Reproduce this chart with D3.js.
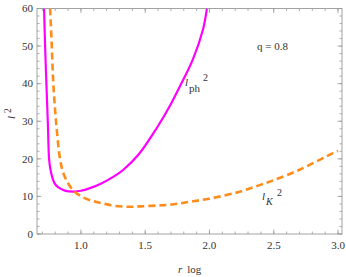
<!DOCTYPE html>
<html>
<head>
<meta charset="utf-8">
<script src="https://cdn.jsdelivr.net/npm/d3@7"></script>
<style>
  body { margin: 0; background: #fff; }
  svg { display: block; }
</style>
</head>
<body>
<svg id="chart" width="346" height="277"></svg>
<script>
// l_ph^2 (solid magenta)
const rPh = [0.713, 0.721, 0.731, 0.742, 0.752, 0.763, 0.783, 0.80, 0.822, 0.874, 0.939, 1.0, 1.07, 1.15, 1.26, 1.33, 1.45, 1.59, 1.7, 1.77, 1.87, 1.95, 1.98];
const lPh = [60, 50, 40, 30, 20, 17.1, 14.4, 13.2, 12.45, 11.55, 11.3, 11.5, 12.2, 13.3, 15.4, 17.1, 21.2, 28.2, 34.6, 39.3, 46.4, 54.5, 60];

// l_K^2 (dashed orange)
const rK = [0.76, 0.773, 0.785, 0.806, 0.837, 0.863, 0.90, 0.94, 1.005, 1.08, 1.16, 1.26, 1.37, 1.46, 1.6, 1.72, 1.85, 2.0, 2.23, 2.39, 2.49, 2.62, 2.75, 2.96, 3.0];
const lK = [60, 50, 40, 30, 20, 16.2, 13.5, 11.6, 9.95, 8.9, 8.2, 7.5, 7.25, 7.35, 7.6, 7.9, 8.6, 9.4, 11.2, 13.0, 14.2, 15.9, 17.9, 21.5, 22.1];

const xMajor = [1.0, 1.5, 2.0, 2.5, 3.0];
const yMajor = [0, 10, 20, 30, 40, 50, 60];

const svg = d3.select('#chart');
const pl = 37, pr = 342, pt = 8.5, pb = 234;

const x = d3.scaleLinear().domain([0.658, 3.031]).range([pl, pr]);
const y = d3.scaleLinear().domain([0, 60]).range([pb, pt]);

const frame = '#9a9a9a';
const txt = '#333';
const serif = 'Times New Roman, Liberation Serif, DejaVu Serif, serif';

svg.append('clipPath').attr('id', 'clip')
  .append('rect').attr('x', pl).attr('y', pt)
  .attr('width', pr - pl).attr('height', pb - pt);

const xMinor = d3.range(7, 31).map(d => d / 10);
const yMinor = d3.range(0, 61, 2);

// inward ticks on every side
function xticks(g, vals, len) {
  g.selectAll(null).data(vals).enter().append('line')
    .attr('x1', d => x(d)).attr('x2', d => x(d))
    .attr('y1', pb).attr('y2', pb - len).attr('stroke', frame);
  g.selectAll(null).data(vals).enter().append('line')
    .attr('x1', d => x(d)).attr('x2', d => x(d))
    .attr('y1', pt).attr('y2', pt + len).attr('stroke', frame);
}
function yticks(g, vals, len) {
  g.selectAll(null).data(vals).enter().append('line')
    .attr('y1', d => y(d)).attr('y2', d => y(d))
    .attr('x1', pl).attr('x2', pl + len).attr('stroke', frame);
  g.selectAll(null).data(vals).enter().append('line')
    .attr('y1', d => y(d)).attr('y2', d => y(d))
    .attr('x1', pr).attr('x2', pr - len).attr('stroke', frame);
}
const tg = svg.append('g').attr('stroke-width', 0.8);
xticks(tg, xMinor, 2.5);
xticks(tg, xMajor, 4.5);
yticks(tg, yMinor, 2.5);
yticks(tg, yMajor, 4.5);

svg.append('rect')
  .attr('x', pl).attr('y', pt)
  .attr('width', pr - pl).attr('height', pb - pt)
  .attr('fill', 'none').attr('stroke', frame).attr('stroke-width', 0.9);

svg.append('g').selectAll('text').data(xMajor).enter().append('text')
  .attr('x', d => x(d)).attr('y', 249)
  .attr('text-anchor', 'middle').attr('font-size', 11).attr('fill', txt)
  .style('font-family', serif)
  .text(d => d.toFixed(1));

svg.append('g').selectAll('text').data(yMajor).enter().append('text')
  .attr('x', 33).attr('y', d => y(d) + 3.8)
  .attr('text-anchor', 'end').attr('font-size', 11).attr('fill', txt)
  .style('font-family', serif)
  .text(d => d);

const line = d3.line().curve(d3.curveCatmullRom.alpha(0.5)).x(d => x(d[0])).y(d => y(d[1]));
const plot = svg.append('g').attr('clip-path', 'url(#clip)');

plot.append('path')
  .attr('d', line(d3.zip(rPh, lPh)))
  .attr('fill', 'none').attr('stroke', '#ff00ff').attr('stroke-width', 2.2);

plot.append('path')
  .attr('d', line(d3.zip(rK, lK)))
  .attr('fill', 'none').attr('stroke', '#ff8c1a').attr('stroke-width', 2.6)
  .attr('stroke-dasharray', '7,4');

// annotations
svg.append('text').attr('x', 257).attr('y', 50).style('font-family', serif)
  .attr('font-size', 11).attr('fill', txt).text('q = 0.8');

const ph = svg.append('text').attr('font-size', 11).attr('fill', txt).style('font-family', serif);
ph.append('tspan').attr('x', 185).attr('y', 86).attr('font-style', 'italic').text('l');
ph.append('tspan').attr('x', 189).attr('y', 92).text('ph');
ph.append('tspan').attr('x', 203).attr('y', 81).attr('font-size', 10).text('2');

const k = svg.append('text').attr('font-size', 11).attr('fill', txt).style('font-family', serif);
k.append('tspan').attr('x', 262).attr('y', 200).attr('font-style', 'italic').text('l');
k.append('tspan').attr('x', 266).attr('y', 205).attr('font-style', 'italic').attr('font-size', 10).text('K');
k.append('tspan').attr('x', 277).attr('y', 196).attr('font-size', 10).text('2');

svg.append('text').attr('transform', 'translate(15,119) rotate(-90)')
  .attr('font-size', 11).attr('fill', txt).style('font-family', serif)
  .call(t => {
    t.append('tspan').attr('font-style', 'italic').text('l');
    t.append('tspan').attr('dx', 3).attr('dy', -4).attr('font-size', 9.5).text('2');
  });

svg.append('text').attr('x', 178).attr('y', 273)
  .attr('font-size', 11).attr('fill', txt).style('font-family', serif)
  .call(t => {
    t.append('tspan').attr('font-style', 'italic').text('r');
    t.append('tspan').attr('dx', 5).text('log');
  });
</script>
</body>
</html>
